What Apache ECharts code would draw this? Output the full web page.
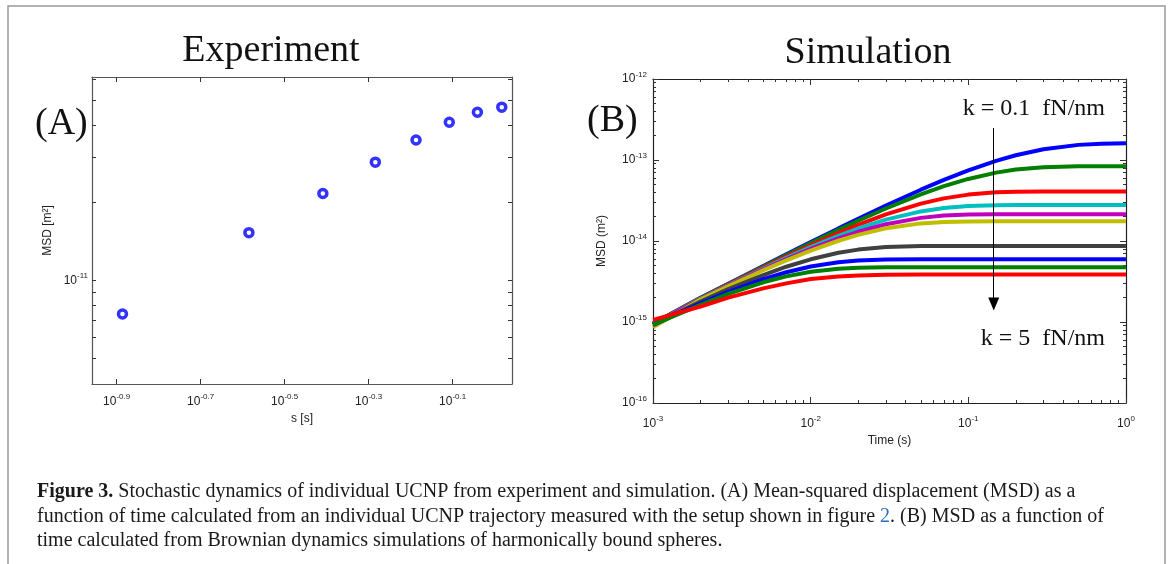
<!DOCTYPE html>
<html>
<head>
<meta charset="utf-8">
<title>Figure 3 - MSD</title>
<script src="https://cdn.jsdelivr.net/npm/echarts@6/dist/echarts.min.js"></script>
<style>html,body{margin:0;padding:0;background:#fff;}</style>
</head>
<body>
<div id="main" style="width:1169px;height:564px;"></div>
<script type="text/javascript">
// (A) experiment
var expTime = [0.13, 0.26, 0.39, 0.52, 0.65, 0.78, 0.91, 1.04];
var expMSD = [7.4e-12, 1.53e-11, 2.17e-11, 2.87e-11, 3.5e-11, 4.1e-11, 4.48e-11, 4.69e-11];
var expXTickExp = [-0.9, -0.7, -0.5, -0.3, -0.1];
var expYTicks = [5e-12, 6e-12, 7e-12, 8e-12, 9e-12, 1e-11, 2e-11, 3e-11, 4e-11, 5e-11, 6e-11];
var expYLabels = [1e-11];

// (B) simulation, k = 0.1 ... 5 fN/nm (top to bottom)
var simTime = [0.001, 0.002, 0.003, 0.005, 0.007, 0.01, 0.015, 0.02, 0.03, 0.05, 0.07, 0.1, 0.15, 0.2, 0.3, 0.5, 0.7, 1];
var msd1 = [0.96e-15, 1.99e-15, 2.97e-15, 4.92e-15, 6.85e-15, 9.69e-15, 1.43e-14, 1.88e-14, 2.74e-14, 4.30e-14, 5.68e-14, 7.45e-14, 9.76e-14, 1.145e-13, 1.36e-13, 1.538e-13, 1.589e-13, 1.607e-13];
var msd2 = [0.95e-15, 1.98e-15, 2.95e-15, 4.85e-15, 6.71e-15, 9.43e-15, 1.374e-14, 1.78e-14, 2.52e-14, 3.77e-14, 4.75e-14, 5.84e-14, 6.99e-14, 7.62e-14, 8.16e-14, 8.38e-14, 8.4e-14, 8.4e-14];
var msd3 = [0.95e-15, 1.95e-15, 2.89e-15, 4.71e-15, 6.43e-15, 8.87e-15, 1.256e-14, 1.58e-14, 2.13e-14, 2.89e-14, 3.36e-14, 3.74e-14, 3.99e-14, 4.07e-14, 4.1e-14, 4.1e-14, 4.1e-14, 4.1e-14];
var msd4 = [0.94e-15, 1.93e-15, 2.84e-15, 4.58e-15, 6.19e-15, 8.40e-15, 1.159e-14, 1.426e-14, 1.835e-14, 2.32e-14, 2.556e-14, 2.70e-14, 2.77e-14, 2.78e-14, 2.78e-14, 2.78e-14, 2.78e-14, 2.78e-14];
var msd5 = [0.93e-15, 1.91e-15, 2.80e-15, 4.46e-15, 5.97e-15, 7.99e-15, 1.078e-14, 1.30e-14, 1.61e-14, 1.93e-14, 2.06e-14, 2.12e-14, 2.14e-14, 2.14e-14, 2.14e-14, 2.14e-14, 2.14e-14, 2.14e-14];
var msd6 = [0.86e-15, 1.89e-15, 2.76e-15, 4.35e-15, 5.77e-15, 7.62e-15, 1.007e-14, 1.19e-14, 1.435e-14, 1.65e-14, 1.718e-14, 1.744e-14, 1.75e-14, 1.75e-14, 1.75e-14, 1.75e-14, 1.75e-14, 1.75e-14];
var msd7 = [0.92e-15, 1.79e-15, 2.54e-15, 3.80e-15, 4.81e-15, 5.94e-15, 7.15e-15, 7.83e-15, 8.42e-15, 8.67e-15, 8.7e-15, 8.7e-15, 8.7e-15, 8.7e-15, 8.7e-15, 8.7e-15, 8.7e-15, 8.7e-15];
var msd8 = [0.92e-15, 1.70e-15, 2.36e-15, 3.38e-15, 4.11e-15, 4.84e-15, 5.47e-15, 5.74e-15, 5.91e-15, 5.95e-15, 5.95e-15, 5.95e-15, 5.95e-15, 5.95e-15, 5.95e-15, 5.95e-15, 5.95e-15, 5.95e-15];
var msd9 = [0.93e-15, 1.63e-15, 2.22e-15, 3.09e-15, 3.66e-15, 4.17e-15, 4.55e-15, 4.68e-15, 4.74e-15, 4.75e-15, 4.75e-15, 4.75e-15, 4.75e-15, 4.75e-15, 4.75e-15, 4.75e-15, 4.75e-15, 4.75e-15];
var msd10 = [1.06e-15, 1.55e-15, 2.0e-15, 2.6e-15, 3.0e-15, 3.4e-15, 3.65e-15, 3.76e-15, 3.83e-15, 3.85e-15, 3.85e-15, 3.85e-15, 3.85e-15, 3.85e-15, 3.85e-15, 3.85e-15, 3.85e-15, 3.85e-15];
var simCurves = [msd1, msd2, msd3, msd4, msd5, msd6, msd7, msd8, msd9, msd10];
var simColors = ['#0000ff', '#007f00', '#ff0000', '#00bfbf', '#bf00bf', '#bfbf00', '#404040', '#0000ff', '#007f00', '#ff0000'];
var simXTickExp = [-3, -2, -1, 0];
var simYTickExp = [-16, -15, -14, -13, -12];

var captionLines = [
    '{b|Figure 3.} Stochastic dynamics of individual UCNP from experiment and simulation. (A) Mean-squared displacement (MSD) as a',
    'function of time calculated from an individual UCNP trajectory measured with the setup shown in figure {lk|2}. (B) MSD as a function of',
    'time calculated from Brownian dynamics simulations of harmonically bound spheres.'
];

var mychart = echarts.init(document.getElementById('main'));

function pow10(e) { return Math.pow(10, e); }
// 2..9 between each pair of decades
function minorTicks(exps) {
    var out = [];
    for (var i = 0; i < exps.length - 1; i++) {
        for (var m = 2; m <= 9; m++) out.push(m * Math.pow(10, exps[i]));
    }
    return out;
}
function supLabel(v) {
    var e = Math.round(Math.log10(v) * 10) / 10;
    return '{b|10}{s|' + e + '}';
}
var supRich = {
    b: { fontSize: 12, lineHeight: 17, fontFamily: 'Liberation Sans', color: '#222' },
    s: { fontSize: 8, verticalAlign: 'top', fontFamily: 'Liberation Sans', color: '#222' }
};

// one side of a plot box
function boxAxis(grid, pos, min, max, ticks, len, labels, margin, lineColor) {
    return {
        type: 'log', logBase: 10, gridIndex: grid, position: pos,
        min: min, max: max,
        axisLine: { show: lineColor != null, lineStyle: { color: lineColor || '#000', width: 1.2 } },
        axisTick: { show: true, inside: true, length: len, customValues: ticks,
                    lineStyle: { color: '#333', width: 1 } },
        axisLabel: labels ? { show: true, customValues: labels, formatter: supLabel,
                              rich: supRich, margin: margin } : { show: false },
        splitLine: { show: false },
        minorTick: { show: false }
    };
}

var expXTicks = expXTickExp.map(pow10);
var simXMajor = simXTickExp.map(pow10);
var simYMajor = simYTickExp.map(pow10);
var simXMinor = minorTicks(simXTickExp);
var simYMinor = minorTicks(simYTickExp);

var xMinA = 0.11, xMaxA = 1.1, yMinA = 3.96e-12, yMaxA = 6.14e-11;
var xMinB = 0.000999, xMaxB = 1.001, yMinB = 0.999e-16, yMaxB = 1.001e-12;

var xAxes = [
    boxAxis(0, 'bottom', xMinA, xMaxA, expXTicks, 5, expXTicks, 9, '#555'),
    boxAxis(0, 'top', xMinA, xMaxA, expXTicks, 5, null, 0, '#555'),
    boxAxis(1, 'bottom', xMinB, xMaxB, simXMajor, 6, simXMajor, 12, '#222'),
    boxAxis(1, 'top', xMinB, xMaxB, simXMajor, 6, null, 0, '#222'),
    boxAxis(1, 'bottom', xMinB, xMaxB, simXMinor, 3, null, 0, null),
    boxAxis(1, 'top', xMinB, xMaxB, simXMinor, 3, null, 0, null)
];
var yAxes = [
    boxAxis(0, 'left', yMinA, yMaxA, expYTicks, 4, expYLabels, 4, '#555'),
    boxAxis(0, 'right', yMinA, yMaxA, expYTicks, 4, null, 0, '#555'),
    boxAxis(1, 'left', yMinB, yMaxB, simYMajor, 6, simYMajor, 6, '#222'),
    boxAxis(1, 'right', yMinB, yMaxB, simYMajor, 6, null, 0, '#222'),
    boxAxis(1, 'left', yMinB, yMaxB, simYMinor, 3, null, 0, null),
    boxAxis(1, 'right', yMinB, yMaxB, simYMinor, 3, null, 0, null)
];
var nameStyle = { fontSize: 12, fontFamily: 'Liberation Sans', color: '#222' };
xAxes[0].name = 's [s]'; xAxes[0].nameLocation = 'middle'; xAxes[0].nameGap = 26; xAxes[0].nameTextStyle = nameStyle;
xAxes[2].name = 'Time (s)'; xAxes[2].nameLocation = 'middle'; xAxes[2].nameGap = 30; xAxes[2].nameTextStyle = nameStyle;
yAxes[0].name = 'MSD [m²]'; yAxes[0].nameLocation = 'middle'; yAxes[0].nameGap = 38; yAxes[0].nameTextStyle = nameStyle;
yAxes[2].name = 'MSD (m²)'; yAxes[2].nameLocation = 'middle'; yAxes[2].nameGap = 45; yAxes[2].nameTextStyle = nameStyle;

var series = [{
    type: 'scatter', xAxisIndex: 0, yAxisIndex: 0,
    data: expTime.map(function (t, i) { return [t, expMSD[i]]; }),
    symbol: 'circle', symbolSize: 8,
    itemStyle: { color: '#fff', borderColor: '#0000ff', borderWidth: 3.5 }
}];
simCurves.forEach(function (curve, i) {
    var s = {
        type: 'line', xAxisIndex: 2, yAxisIndex: 2,
        data: simTime.map(function (t, j) { return [t, curve[j]]; }),
        showSymbol: false, smooth: false,
        lineStyle: { color: simColors[i], width: 4 },
        itemStyle: { color: simColors[i] }
    };
    if (i === simCurves.length - 1) {
        // arrow from k = 0.1 down to k = 5
        s.markLine = {
            silent: true, animation: false,
            symbol: ['none', 'triangle'], symbolSize: [11, 13],
            label: { show: false },
            lineStyle: { color: '#000', width: 1, type: 'solid' },
            data: [[{ coord: [0.145, 2.48e-13] }, { coord: [0.145, 1.67e-15] }]]
        };
    }
    series.push(s);
});

var serif = 'Liberation Serif';
var capSize = 20;
var capGraphics = captionLines.map(function (line, i) {
    return { type: 'text', x: 37, y: 492 + i * 24.5, style: {
        text: line, font: capSize + 'px "Liberation Serif"', fill: '#1a1a1a', verticalAlign: 'middle',
        rich: { b: { fontWeight: 'bold', fontSize: capSize, fontFamily: serif },
                lk: { fontSize: capSize, fontFamily: serif, fill: '#2a6ebb', color: '#2a6ebb' } } } };
});

var option = {
    animation: false,
    backgroundColor: '#fff',
    grid: [
        { left: 92, top: 77, width: 420, height: 307, outerBoundsMode: 'none' },
        { left: 653, top: 79, width: 473, height: 324, outerBoundsMode: 'none' }
    ],
    xAxis: xAxes,
    yAxis: yAxes,
    series: series,
    graphic: [
        { type: 'rect', shape: { x: 8, y: 6, width: 1157, height: 620 }, z: -10,
          style: { fill: 'none', stroke: '#999', lineWidth: 1.5 } },
        { type: 'text', x: 271, y: 51, style: { text: 'Experiment', font: '38px "Liberation Serif"', fill: '#111', align: 'center', verticalAlign: 'middle' } },
        { type: 'text', x: 868, y: 53, style: { text: 'Simulation', font: '38px "Liberation Serif"', fill: '#111', align: 'center', verticalAlign: 'middle' } },
        { type: 'text', x: 35, y: 124, style: { text: '(A)', font: '38px "Liberation Serif"', fill: '#111', align: 'left', verticalAlign: 'middle' } },
        { type: 'text', x: 587, y: 121, style: { text: '(B)', font: '38px "Liberation Serif"', fill: '#111', align: 'left', verticalAlign: 'middle' } },
        { type: 'text', x: 1105, y: 109, style: { text: 'k = 0.1  fN/nm', font: '24px "Liberation Serif"', fill: '#111', align: 'right', verticalAlign: 'middle' } },
        { type: 'text', x: 1105, y: 339, style: { text: 'k = 5  fN/nm', font: '24px "Liberation Serif"', fill: '#111', align: 'right', verticalAlign: 'middle' } }
    ].concat(capGraphics)
};
mychart.setOption(option);
</script>
</body>
</html>
